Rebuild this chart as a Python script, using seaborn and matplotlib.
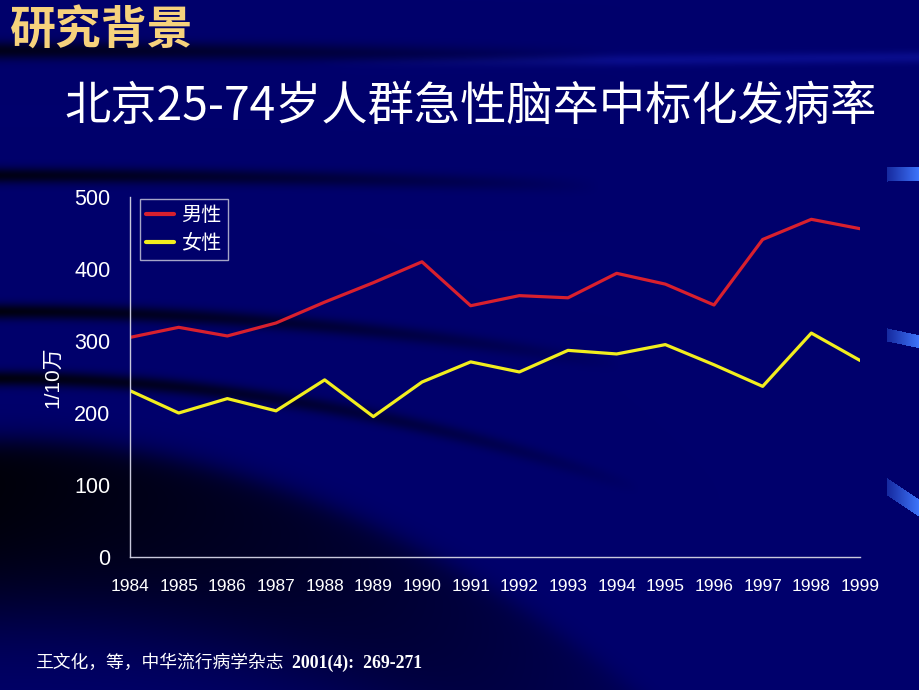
import numpy as np
import pandas as pd
import matplotlib
matplotlib.use("Agg")
import matplotlib.pyplot as plt
import seaborn as sns

years = [1984, 1985, 1986, 1987, 1988, 1989, 1990, 1991,
         1992, 1993, 1994, 1995, 1996, 1997, 1998, 1999]
male = [305, 319, 307, 325, 354, 381, 410, 349,
        363, 360, 394, 379, 350, 441, 469, 456]
female = [231, 200, 220, 203, 246, 195, 243, 271,
          257, 287, 282, 295, 267, 237, 311, 273]
series_names = ["男性", "女性"]
yticks = [0, 100, 200, 300, 400, 500]

title_head = "研究背景"
title_main = "北京25-74岁人群急性脑卒中标化发病率"
ylabel = "1/10万"
source_cn = "王文化，等，中华流行病学杂志"
source_num = "2001(4):  269-271"

df = pd.DataFrame({
    "year": years * 2,
    "rate": male + female,
    "sex": [series_names[0]] * len(years) + [series_names[1]] * len(years),
})

sns.set_theme(style="white")
plt.rcParams["font.family"] = ["Liberation Sans", "Noto Sans CJK SC", "DejaVu Sans"]

W, H = 920, 690
BG = np.array([0x00, 0x00, 0x6C]) / 255.0
fig = plt.figure(figsize=(9.2, 6.9), dpi=100, facecolor=BG)

# ---- background decoration (dark swooshes + blue accents) ----
yy, xx = np.mgrid[0:H, 0:W].astype(float)
dark = np.zeros((H, W))

def swoosh(y0, k, w, fade, strength):
    yc = y0 + k * xx ** 2
    prof = np.exp(-((yy - yc) / w) ** 2)
    f = np.clip(1 - xx / fade, 0, 1) ** 0.8
    return strength * prof * f

dark += swoosh(50, 0.00002, 9, 620, 0.75)
dark += swoosh(175, 0.00003, 8, 600, 0.8)
dark += swoosh(311, 0.00014, 8, 620, 0.85)
dark += swoosh(378, 0.00027, 8, 640, 0.85)
# broad dark arc in the lower-left
edge = 440 + 0.00062 * xx ** 2
inner = 1 / (1 + np.exp(-(yy - edge) / 8))
outer = 1 / (1 + np.exp((yy - (edge + 170)) / 30))
fadeE = np.clip(1 - xx / 720, 0, 1) ** 0.7
dark += 0.92 * inner * outer * fadeE
dark = np.clip(dark, 0, 0.95)

img = BG[None, None, :] * (1 - dark[..., None])
# lighter band near the top
lt = np.exp(-((yy - (66 - 0.01 * xx)) / 6) ** 2) * np.clip((xx - 300) / 300, 0, 1)
img = img + lt[..., None] * 0.12 * np.array([0.3, 0.4, 1.0])

blue = np.array([0x40, 0x78, 0xFF]) / 255.0
def accent(x0, ytop0, ytop1, h):
    t = np.clip((xx - x0) / (W - x0), 0, 1)
    top = ytop0 + (ytop1 - ytop0) * t
    m = (xx >= x0) & (yy >= top) & (yy <= top + h)
    return np.where(m, 0.35 + 0.65 * t, 0)
for (x0, a0, a1, h) in [(887, 167, 166, 14), (887, 328, 335, 13), (887, 478, 500, 17)]:
    a = accent(x0, a0, a1, h)
    img = img * (1 - a[..., None]) + blue[None, None, :] * a[..., None]

img = np.clip(img, 0, 1)
bg = fig.add_axes([0, 0, 1, 1], zorder=-5)
bg.imshow(img, extent=(0, W, H, 0), aspect="auto", interpolation="bilinear")
bg.set_xlim(0, W)
bg.set_ylim(H, 0)
bg.axis("off")

# ---- main chart ----
ax = fig.add_axes([130 / W, 1 - 557 / H, 730 / W, 360 / H])
ax.set_facecolor("none")
sns.lineplot(data=df, x="year", y="rate", hue="sex",
             palette={series_names[0]: "#D8202E", series_names[1]: "#F2EE1E"},
             linewidth=2.3, ax=ax, legend=True)

ax.set_xlim(years[0], years[-1])
ax.set_ylim(0, 500)
ax.set_xticks(years)
ax.set_xticklabels([str(y) for y in years], color="white", fontsize=12.5)
ax.set_yticks(yticks)
ax.set_yticklabels([str(v) for v in yticks], color="white", fontsize=15.5)
ax.set_xlabel("")
ax.set_ylabel(ylabel, color="white", fontsize=15, labelpad=9,
              family=["Liberation Sans", "Noto Sans CJK SC"])
for s in ["top", "right"]:
    ax.spines[s].set_visible(False)
for s in ["left", "bottom"]:
    ax.spines[s].set_color("#C8C8DC")
    ax.spines[s].set_linewidth(1)
ax.tick_params(axis="both", direction="in", length=5, width=1, color="#C8C8DC")
ax.tick_params(axis="x", pad=16)
ax.tick_params(axis="y", pad=14)

leg = ax.legend(loc="upper left", bbox_to_anchor=(10 / 730, 1 - 2 / 360),
                borderaxespad=0, frameon=True, fancybox=False,
                handlelength=1.4, handletextpad=0.35,
                borderpad=0.3, labelspacing=0.35,
                prop={"family": ["Noto Sans CJK SC"], "size": 14.5, "weight": "light"})
leg.get_frame().set_facecolor("none")
leg.get_frame().set_edgecolor("#D0D0E0")
leg.get_frame().set_linewidth(1)
for line in leg.get_lines():
    line.set_linewidth(3)
for t in leg.get_texts():
    t.set_color("white")

# ---- titles ----
fig.text(10 / W, 1 - 32 / H, title_head, color="#F6D27C", fontsize=33,
         fontweight="bold", family=["Noto Sans CJK SC"], va="center", ha="left")
fig.text(471 / W, 1 - 106 / H, title_main, color="white", fontsize=33.3,
         fontweight="light", family=["Noto Sans CJK SC"], va="center", ha="center")

# ---- source ----
fig.text(35 / W, 1 - 663 / H, source_cn, color="white", fontsize=12.8,
         family=["Noto Sans CJK SC"], va="center", ha="left")
fig.text(292 / W, 1 - 663 / H, source_num, color="white", fontsize=12.8,
         fontweight="bold", family=["Liberation Serif"], va="center", ha="left")

fig.savefig("out.png", dpi=100, facecolor=BG)
